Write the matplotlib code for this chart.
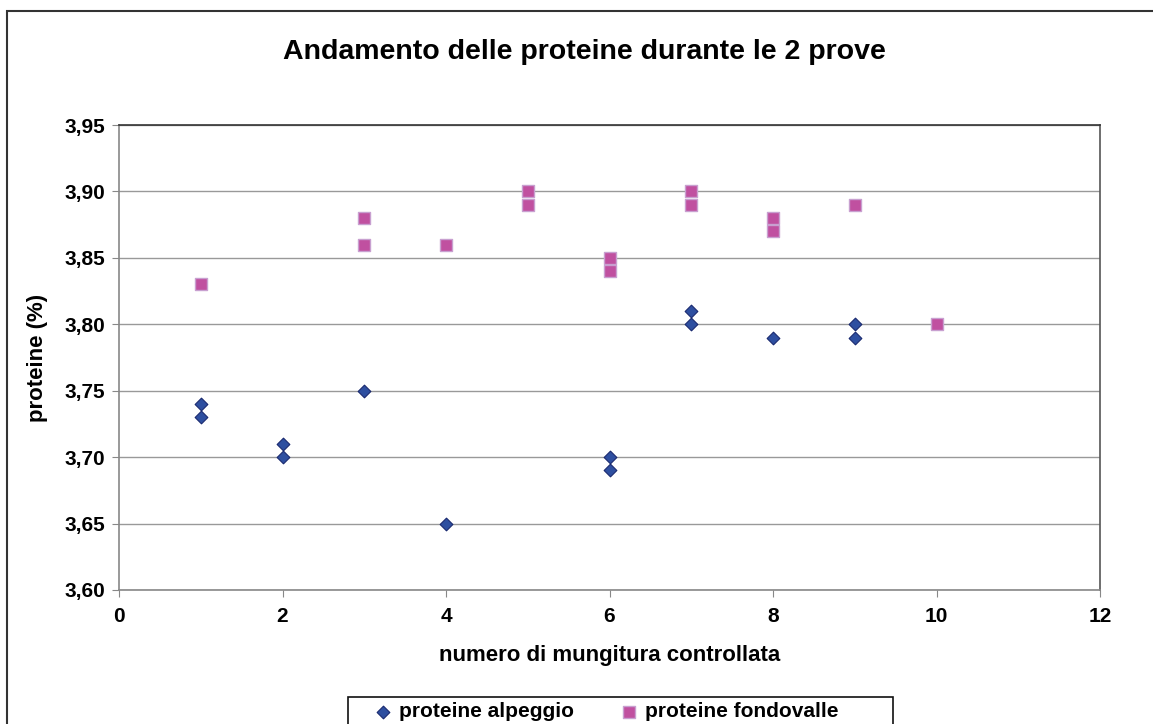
import matplotlib
matplotlib.use("Agg")
import matplotlib.pyplot as plt
from matplotlib.patches import Rectangle
from matplotlib.ticker import FuncFormatter, MultipleLocator

plt.rcParams['font.family'] = ['Liberation Sans', 'DejaVu Sans']
plt.rcParams['font.weight'] = 'bold'

# dati
alp_x = [1, 1, 2, 2, 3, 4, 6, 6, 7, 7, 8, 9, 9]
alp_y = [3.74, 3.73, 3.71, 3.70, 3.75, 3.65, 3.70, 3.69, 3.81, 3.80, 3.79, 3.80, 3.79]
fon_x = [1, 3, 3, 4, 5, 5, 6, 6, 7, 7, 8, 8, 9, 10]
fon_y = [3.83, 3.88, 3.86, 3.86, 3.90, 3.89, 3.85, 3.84, 3.90, 3.89, 3.88, 3.87, 3.89, 3.80]

W, H = 1153, 724
fig = plt.figure(figsize=(W / 100, H / 100), dpi=100)
ax = fig.add_axes([119 / W, 1 - 590 / H, 981 / W, 465 / H])

# cornice esterna del grafico
fig.patches.append(Rectangle((7 / W, -0.1), 1.2, (H - 11) / H + 0.1,
                             transform=fig.transFigure, fill=False,
                             edgecolor='#333333', linewidth=1.5))
# cornice della legenda (tagliata in basso come nell'originale)
fig.patches.append(Rectangle((348 / W, -0.1), (893 - 348) / W, (H - 697) / H + 0.1,
                             transform=fig.transFigure, fill=False,
                             edgecolor='#111111', linewidth=1.2))

ax.scatter(alp_x, alp_y, marker='D', s=42, facecolor='#2E4FA0',
           edgecolor='#1A2A70', linewidth=0.8, label='proteine alpeggio', zorder=3)
ax.scatter(fon_x, fon_y, marker='s', s=70, facecolor='#C050A0',
           edgecolor='#C8A0D0', linewidth=1.0, label='proteine fondovalle', zorder=3)

ax.set_xlim(0, 12)
ax.set_ylim(3.60, 3.95)
ax.xaxis.set_major_locator(MultipleLocator(2))
ax.yaxis.set_major_locator(MultipleLocator(0.05))
ax.yaxis.set_major_formatter(FuncFormatter(lambda v, p: f"{v:.2f}".replace('.', ',')))
ax.grid(axis='y', color='#999999', linewidth=1.0)
ax.set_axisbelow(True)

for s in ['left', 'bottom']:
    ax.spines[s].set_color('#888888')
ax.spines['top'].set_color('#333333')
ax.spines['right'].set_color('#555555')
for s in ax.spines.values():
    s.set_linewidth(1.2)

ax.tick_params(axis='both', direction='out', length=5, color='#888888',
               labelsize=15, pad=5)
ax.tick_params(axis='x', pad=7)

ax.set_xlabel('numero di mungitura controllata', fontsize=16, fontweight='bold', labelpad=14)
ax.set_ylabel('proteine (%)', fontsize=16, fontweight='bold', labelpad=12)
fig.text(584 / W, 1 - 52 / H, 'Andamento delle proteine durante le 2 prove',
         ha='center', va='center', fontsize=20.5, fontweight='bold')

leg = fig.legend(loc='upper left', bbox_to_anchor=(372 / W, 1 - 702 / H),
                 ncol=2, fontsize=15, frameon=False, borderpad=0, borderaxespad=0,
                 handlelength=1.06, handletextpad=0.25, columnspacing=2.1,
                 scatterpoints=1, markerscale=1.0)

fig.savefig('out.png', dpi=100)
